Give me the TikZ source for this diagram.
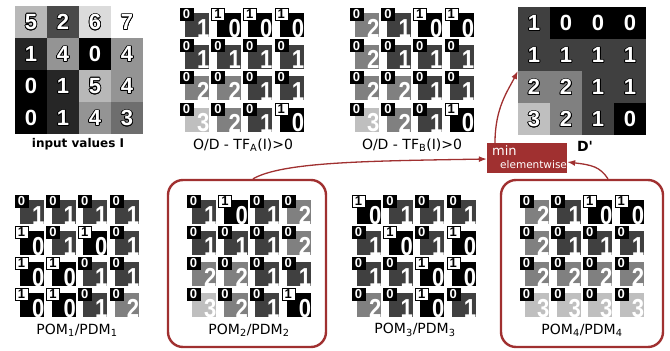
\documentclass[tikz,border=0pt]{standalone}
\usepackage{graphicx}
\usepackage{fontspec}
\setmainfont{DejaVu Sans}
\newfontfamily\digitfont{Liberation Sans}
\usepackage{contour}
\contourlength{0.7pt}
\usetikzlibrary{arrows.meta}
\definecolor{minred}{RGB}{160,48,48}

% gray-value map: name, x0, y0, step of gray per unit, values
\newcommand{\valmap}[5]{%
  \foreach \v [count=\i from 0] in {#5} {
    \pgfmathsetmacro\cx{#2+32*mod(\i,4)}
    \pgfmathsetmacro\cy{#3+32*floor(\i/4)}
    \pgfmathtruncatemacro\gv{100-#4*\v}
    \fill[black!\gv] (\cx,\cy) rectangle +(32,32);
    \node[valdigit] (#1-\i) at (\cx+16,\cy+16.5) {\contour{black}{\v}};
  }}
% occlusion/distance map: name, x0, y0, row pitch, pom/dist values
\newcommand{\odmap}[5]{%
  \foreach \p/\d [count=\i from 0] in {#5} {
    \pgfmathsetmacro\cx{#2+31.6*mod(\i,4)}
    \pgfmathsetmacro\cy{#3+#4*floor(\i/4)}
    \pgfmathtruncatemacro\gv{100-25*\d}
    \fill[black!\gv] (\cx+5,\cy+5) rectangle +(24,24);
    \node[ddigit, anchor=south east] (#1-d\i) at (\cx+29.5,\cy+29.5) {\scalebox{0.85}[1]{\d}};
    \ifnum\p=0 \node[pombox, fill=black, text=white] (#1-p\i) at (\cx+6.5,\cy+6) {0};
    \else \node[pombox, fill=white, text=black] (#1-p\i) at (\cx+6.5,\cy+6) {1};\fi
  }}

\begin{document}
\begin{tikzpicture}[x=1pt, y=-1pt, >={Latex[length=8pt, width=6pt]},
  every node/.style={font=\fontsize{14}{16}\selectfont},
  valdigit/.style={text=white, inner sep=0, font=\digitfont\bfseries\fontsize{22}{22}\selectfont},
  ddigit/.style={text=white, inner sep=0, font=\digitfont\bfseries\fontsize{26}{26}\selectfont},
  pombox/.style={draw=black, line width=0.5pt, minimum width=13pt, minimum height=12pt, inner sep=0, font=\digitfont\bfseries\fontsize{13}{13}\selectfont},
  maplabel/.style={inner sep=0},
  groupbox/.style={draw=minred, line width=2.4pt, rounded corners=15pt, inner sep=0},
  minbox/.style={fill=minred, minimum width=80pt, minimum height=30pt, inner sep=0},
  flow/.style={draw=minred, line width=1.3pt, ->}]
	\useasboundingbox (0,0) rectangle (670,351);
	\valmap{in}{15}{6}{14.2857}{5,2,6,7, 1,4,0,4, 0,1,5,4, 0,1,4,3}
	\odmap{tfa}{180}{8}{31.6}{0/1,1/0,1/0,1/0, 0/1,0/1,0/1,0/1, 0/2,0/2,0/1,0/1, 0/3,0/2,0/1,1/0}
	\odmap{tfb}{350}{8}{31.6}{0/2,0/1,1/0,1/0, 0/2,0/1,0/1,0/1, 0/2,0/2,0/1,0/1, 0/3,0/2,0/1,1/0}
	\valmap{dp}{518}{7}{25}{1,0,0,0, 1,1,1,1, 2,2,1,1, 3,2,1,0}
	\node[minimum size=128pt, inner sep=0] (dmap) at (582,71) {};
	\odmap{pa}{15}{195}{31}{0/1,0/1,0/1,0/1, 1/0,0/1,1/0,0/1, 1/0,1/0,0/1,0/1, 1/0,1/0,0/1,0/2}
	\odmap{pb}{187}{195}{31}{0/1,1/0,0/1,0/2, 0/1,0/1,0/1,0/2, 0/2,0/2,0/1,0/1, 0/3,0/2,0/1,1/0}
	\odmap{pc}{352}{195}{31}{1/0,0/1,0/1,0/1, 0/1,1/0,0/1,1/0, 0/1,0/1,1/0,1/0, 0/2,0/1,1/0,0/1}
	\odmap{pd}{520}{195}{31}{0/2,0/1,1/0,1/0, 0/2,0/1,0/1,0/1, 0/2,0/2,0/2,0/2, 0/3,0/3,0/3,0/3}
	\node[maplabel, font=\bfseries\fontsize{12}{14}\selectfont] (inlab) at (78,144) {input values I};
	\node[maplabel] (talab) at (243,145) {O/D - TF\textsubscript{A}(I)>0};
	\node[maplabel] (tblab) at (412,145) {O/D - TF\textsubscript{B}(I)>0};
	\node[maplabel, font=\bfseries\fontsize{14}{16}\selectfont] (dlab) at (585,146) {D\textquotesingle};
	\node[maplabel] (palab) at (77,330) {POM\textsubscript{1}/PDM\textsubscript{1}};
	\node[maplabel] (pblab) at (249,330) {POM\textsubscript{2}/PDM\textsubscript{2}};
	\node[maplabel] (pclab) at (415,330) {POM\textsubscript{3}/PDM\textsubscript{3}};
	\node[maplabel] (pdlab) at (582,330) {POM\textsubscript{4}/PDM\textsubscript{4}};
	\node[groupbox, minimum width=158pt, minimum height=167pt] (box2) at (247,263.5) {};
	\node[groupbox, minimum width=162pt, minimum height=167pt] (box4) at (582,263.5) {};
	\node[minbox] (minbox) at (527,158) {};
	\node[text=white, inner sep=0, anchor=base west, font=\fontsize{13}{14}\selectfont] (mintxt) at (492,155) {min};
	\node[text=white, inner sep=0, anchor=base west, font=\fontsize{10.5}{12}\selectfont] (elemtxt) at (500,168.5) {elementwise};
	\draw[flow] ([xshift=6pt]box2.north) .. controls +(30,-17) and +(-120,2) .. ([yshift=-1pt]minbox.west);
	\draw[flow] ([xshift=26pt]box4.north) .. controls +(-8,-12) and +(25,3) .. ([yshift=-4pt]minbox.east);
	\draw[flow] ([xshift=-32pt]minbox.north) .. controls +(0,-35) and +(-10,20) .. (dmap.west);
\end{tikzpicture}
\end{document}
